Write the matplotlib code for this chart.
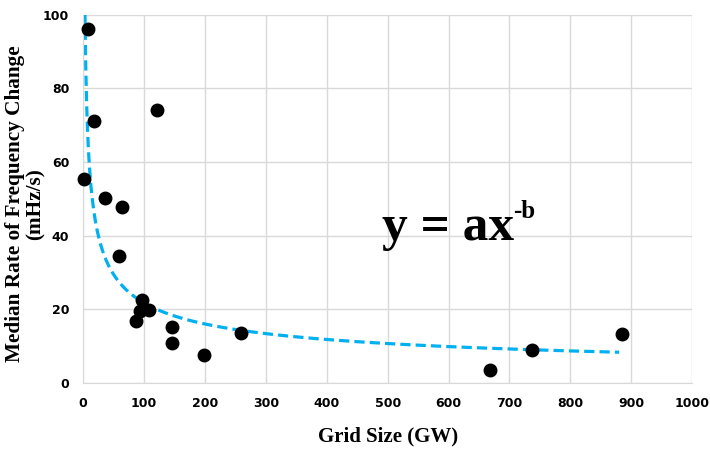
import numpy as np
import matplotlib.pyplot as plt

# grid size (GW) and median RoCoF (mHz/s)
grid_gw = [8, 18, 2, 121, 36, 64, 59, 97, 94, 108, 87, 146, 146, 199, 259, 668, 737, 885]
rocof = [96.2, 71.2, 55.4, 74.2, 50.3, 47.8, 34.5, 22.6, 19.6, 19.8, 16.8, 15.2, 10.9, 7.6, 13.6, 3.5, 9.0, 13.3]

# power trendline y = a x^-b (estimated)
a_fit = 165.0
b_fit = 0.44
x_start, x_end = 1.5, 880

xticks = list(range(0, 1001, 100))
yticks = list(range(0, 101, 20))

fig = plt.figure(figsize=(7.1, 4.49), dpi=100)
ax = fig.add_axes([0.117, 0.147, 0.858, 0.82])

xs = np.linspace(x_start, x_end, 600)
ax.plot(xs, a_fit * xs ** -b_fit, color='#00B0F0', lw=2.3, ls=(0, (3.2, 1.6)), zorder=2)
ax.plot(grid_gw, rocof, 'o', color='black', ms=9, zorder=3, clip_on=False)

ax.set_xlim(0, 1000)
ax.set_ylim(0, 100)
ax.set_xticks(xticks)
ax.set_yticks(yticks)
ax.grid(True, color='#d9d9d9', lw=1)
ax.set_axisbelow(True)
ax.tick_params(length=0, pad=10)
for lab in ax.get_xticklabels() + ax.get_yticklabels():
    lab.set_fontsize(9)
    lab.set_fontweight('bold')
    lab.set_family('DejaVu Sans Condensed')
for s in ['top', 'right']:
    ax.spines[s].set_visible(False)
for s in ['left', 'bottom']:
    ax.spines[s].set_color('#d9d9d9')

ax.set_xlabel('Grid Size (GW)', family='Liberation Serif', fontweight='bold', fontsize=15, labelpad=12)
ax.set_ylabel('Median Rate of Frequency Change\n(mHz/s)', family='Liberation Serif', fontweight='bold',
              fontsize=15.3, linespacing=1.05)
ax.yaxis.set_label_coords(-0.062, 0.486)

# equation label with raised "-b"
t = ax.text(491, 38.9, 'y = ax', family='Liberation Serif', fontweight='bold', fontsize=37,
            ha='left', va='baseline')
fig.canvas.draw()
bb = t.get_window_extent()
sup_x = ax.transData.inverted().transform((bb.x1 - 1, 0))[0]
ax.text(sup_x, 38.9 + 22 / 3.68, '-b', family='Liberation Serif', fontweight='bold', fontsize=18,
        ha='left', va='baseline')

fig.savefig('out.png', dpi=100)
